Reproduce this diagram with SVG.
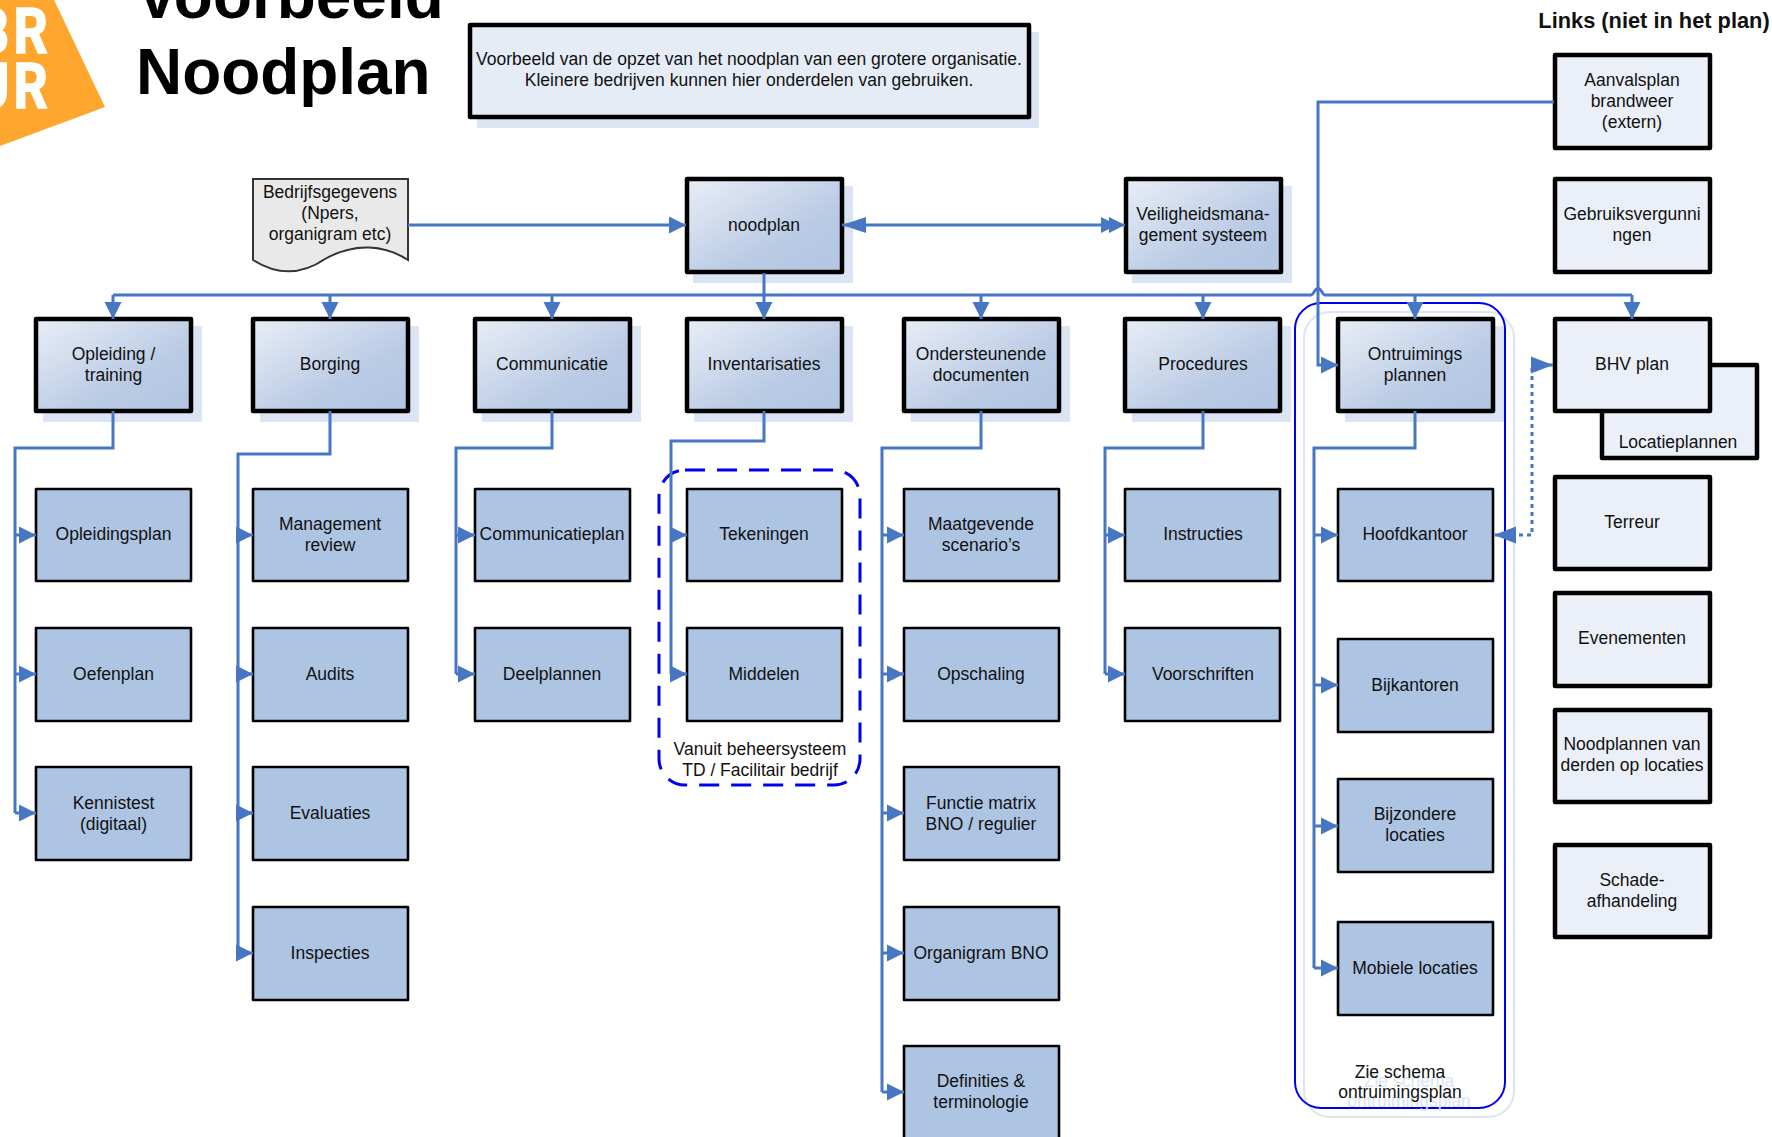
<svg xmlns="http://www.w3.org/2000/svg" width="1772" height="1137" viewBox="0 0 1772 1137">
<style>
text{font-family:"Liberation Sans",Arial,sans-serif;font-size:17.5px;fill:#111;text-anchor:middle}
.sh{fill:#dbe4f3;stroke:#dbe4f3;stroke-width:2}
.top{fill:url(#g);stroke:#000;stroke-width:4.5;stroke-linejoin:round}
.ch{fill:#aec4e3;stroke:#000;stroke-width:2.6;stroke-linejoin:round}
.lt{fill:#ebf0f8;stroke:#000;stroke-width:4.5;stroke-linejoin:round}
.c{fill:none;stroke:#4777c3;stroke-width:3}
.a{marker-end:url(#m)}
.b{marker-end:url(#mb)}
.title{font-size:63.9px;font-weight:bold;text-anchor:start;fill:#000}
.logo{font-family:Roboto,"Liberation Sans",sans-serif;font-size:63px;font-weight:bold;fill:#fff;stroke:#fff;stroke-width:1.6;text-anchor:end;letter-spacing:5px}
.ghost{fill:#dbe4f3}
</style>
<defs>
<linearGradient id="g" x1="0" y1="0" x2="1" y2="1"><stop offset="0" stop-color="#e9eef7"/><stop offset=".65" stop-color="#b9cae4"/><stop offset="1" stop-color="#b2c6e2"/></linearGradient>
<marker id="m" markerUnits="userSpaceOnUse" markerWidth="18" markerHeight="18" refX="17" refY="9" orient="auto"><path d="M0 0.5L17 9L0 17.5Z" fill="#4777c3"/></marker>
<marker id="mb" markerUnits="userSpaceOnUse" markerWidth="23" markerHeight="19" refX="22" refY="9" orient="auto-start-reverse"><path d="M0 0.5L22 9L0 17.5Z" fill="#4777c3"/></marker>
<marker id="md" markerUnits="userSpaceOnUse" markerWidth="25" markerHeight="17" refX="24" refY="8.5" orient="auto"><path d="M0 0.5L16 8.5L0 16.5ZM8 0.5L24 8.5L8 16.5Z" fill="#4777c3"/></marker>
<marker id="ms" markerUnits="userSpaceOnUse" markerWidth="25" markerHeight="17" refX="24" refY="8.5" orient="auto-start-reverse"><path d="M0 0.5L24 8.5L0 16.5Z" fill="#4777c3"/></marker>
</defs>
<rect width="1772" height="1137" fill="#fff"/>

<g id="logo"><path d="M0 0H54L105 107L0 146Z" fill="#fea62d"/><text class="logo" transform="translate(52 53) scale(.85 1)" x="0" y="0">BR</text><text class="logo" transform="translate(52 108) scale(.85 1)" x="0" y="0">UR</text></g>
<g id="title"><text class="title" x="136" y="18">Voorbeeld</text><text class="title" x="136" y="94">Noodplan</text></g>
<g id="links-title"><text x="1654" y="28" style="font-weight:bold;font-size:21.8px">Links (niet in het plan)</text></g>
<g id="info"><rect class="sh" x="478" y="33" width="560" height="94"/><rect class="lt" x="470" y="25" width="559" height="92" style="fill:#e6ecf6"/><text x="749" y="65">Voorbeeld van de opzet van het noodplan van een grotere organisatie.</text><text x="749" y="86">Kleinere bedrijven kunnen hier onderdelen van gebruiken.</text></g>

<g id="ontruiming-frame"><rect x="1304" y="312" width="210" height="805" rx="26" fill="#fff" stroke="#dbe4f3" stroke-width="2"/><rect x="1295" y="303" width="210" height="805" rx="26" fill="none" stroke="#0000f0" stroke-width="2"/><text class="ghost" x="1409" y="1087">Zie schema</text><text class="ghost" x="1409" y="1107">ontruimingsplan</text><text x="1400" y="1078">Zie schema</text><text x="1400" y="1098">ontruimingsplan</text></g>

<g id="bedrijfsgegevens"><path d="M253 179H408V260C385 245 355 242 325 259C300 276 275 274 253 260Z" fill="#e9e9e9" stroke="#333" stroke-width="2"/><text x="330" y="198">Bedrijfsgegevens</text><text x="330" y="219">(Npers,</text><text x="330" y="240">organigram etc)</text></g>
<g id="noodplan"><rect class="sh" x="694" y="187" width="158" height="95"/><rect class="top" x="687" y="179" width="155" height="93"/><text x="764" y="231">noodplan</text></g>
<g id="veiligheid"><rect class="sh" x="1133" y="187" width="158" height="95"/><rect class="top" x="1126" y="179" width="155" height="93"/><text x="1203" y="220">Veiligheidsmana-</text><text x="1203" y="241">gement systeem</text></g>

<g id="aanvalsplan"><rect class="lt" x="1555" y="55" width="155" height="93"/><text x="1632" y="86">Aanvalsplan</text><text x="1632" y="107">brandweer</text><text x="1632" y="128">(extern)</text></g>
<g id="gebruik"><rect class="lt" x="1555" y="179" width="155" height="93"/><text x="1632" y="220">Gebruiksvergunni</text><text x="1632" y="241">ngen</text></g>
<g id="locatieplannen"><rect class="lt" x="1602" y="365" width="155" height="93"/><text x="1678" y="448">Locatieplannen</text></g>
<g id="bhv"><rect class="lt" x="1555" y="319" width="155" height="92"/><text x="1632" y="370">BHV plan</text></g>
<g id="terreur"><rect class="lt" x="1555" y="477" width="155" height="92"/><text x="1632" y="528">Terreur</text></g>
<g id="evenementen"><rect class="lt" x="1555" y="593" width="155" height="93"/><text x="1632" y="644">Evenementen</text></g>
<g id="noodplannen-derden"><rect class="lt" x="1555" y="710" width="155" height="92"/><text x="1632" y="750">Noodplannen van</text><text x="1632" y="771">derden op locaties</text></g>
<g id="schade"><rect class="lt" x="1555" y="845" width="155" height="92"/><text x="1632" y="886">Schade-</text><text x="1632" y="907">afhandeling</text></g>

<g id="opleiding"><rect class="sh" x="44" y="327" width="157" height="94"/><rect class="top" x="36" y="319" width="155" height="92"/><text x="113.5" y="360">Opleiding /</text><text x="113.5" y="381">training</text></g>
<g id="borging"><rect class="sh" x="261" y="327" width="157" height="94"/><rect class="top" x="253" y="319" width="155" height="92"/><text x="330" y="370">Borging</text></g>
<g id="communicatie"><rect class="sh" x="483" y="327" width="157" height="94"/><rect class="top" x="475" y="319" width="155" height="92"/><text x="552" y="370">Communicatie</text></g>
<g id="inventarisaties"><rect class="sh" x="695" y="327" width="157" height="94"/><rect class="top" x="687" y="319" width="155" height="92"/><text x="764" y="370">Inventarisaties</text></g>
<g id="ondersteunende"><rect class="sh" x="912" y="327" width="157" height="94"/><rect class="top" x="904" y="319" width="155" height="92"/><text x="981" y="360">Ondersteunende</text><text x="981" y="381">documenten</text></g>
<g id="procedures"><rect class="sh" x="1133" y="327" width="157" height="94"/><rect class="top" x="1125" y="319" width="155" height="92"/><text x="1203" y="370">Procedures</text></g>
<g id="ontruimings"><rect class="sh" x="1346" y="327" width="157" height="94"/><rect class="top" x="1338" y="319" width="155" height="92"/><text x="1415" y="360">Ontruimings</text><text x="1415" y="381">plannen</text></g>

<g id="opleidingsplan"><rect class="ch" x="36" y="489" width="155" height="92"/><text x="113.5" y="540">Opleidingsplan</text></g>
<g id="oefenplan"><rect class="ch" x="36" y="628" width="155" height="93"/><text x="113.5" y="680">Oefenplan</text></g>
<g id="kennistest"><rect class="ch" x="36" y="767" width="155" height="93"/><text x="113.5" y="809">Kennistest</text><text x="113.5" y="830">(digitaal)</text></g>
<g id="management"><rect class="ch" x="253" y="489" width="155" height="92"/><text x="330" y="530">Management</text><text x="330" y="551">review</text></g>
<g id="audits"><rect class="ch" x="253" y="628" width="155" height="93"/><text x="330" y="680">Audits</text></g>
<g id="evaluaties"><rect class="ch" x="253" y="767" width="155" height="93"/><text x="330" y="819">Evaluaties</text></g>
<g id="inspecties"><rect class="ch" x="253" y="907" width="155" height="93"/><text x="330" y="959">Inspecties</text></g>
<g id="communicatieplan"><rect class="ch" x="475" y="489" width="155" height="92"/><text x="552" y="540">Communicatieplan</text></g>
<g id="deelplannen"><rect class="ch" x="475" y="628" width="155" height="93"/><text x="552" y="680">Deelplannen</text></g>
<g id="tekeningen"><rect class="ch" x="687" y="489" width="155" height="92"/><text x="764" y="540">Tekeningen</text></g>
<g id="middelen"><rect class="ch" x="687" y="628" width="155" height="93"/><text x="764" y="680">Middelen</text></g>
<g id="maatgevende"><rect class="ch" x="904" y="489" width="155" height="92"/><text x="981" y="530">Maatgevende</text><text x="981" y="551">scenario’s</text></g>
<g id="opschaling"><rect class="ch" x="904" y="628" width="155" height="93"/><text x="981" y="680">Opschaling</text></g>
<g id="functie"><rect class="ch" x="904" y="767" width="155" height="93"/><text x="981" y="809">Functie matrix</text><text x="981" y="830">BNO / regulier</text></g>
<g id="organigram"><rect class="ch" x="904" y="907" width="155" height="93"/><text x="981" y="959">Organigram BNO</text></g>
<g id="definities"><rect class="ch" x="904" y="1046" width="155" height="95"/><text x="981" y="1087">Definities &amp;</text><text x="981" y="1108">terminologie</text></g>
<g id="instructies"><rect class="ch" x="1125" y="489" width="155" height="92"/><text x="1203" y="540">Instructies</text></g>
<g id="voorschriften"><rect class="ch" x="1125" y="628" width="155" height="93"/><text x="1203" y="680">Voorschriften</text></g>
<g id="hoofdkantoor"><rect class="ch" x="1338" y="489" width="155" height="92"/><text x="1415" y="540">Hoofdkantoor</text></g>
<g id="bijkantoren"><rect class="ch" x="1338" y="639" width="155" height="93"/><text x="1415" y="691">Bijkantoren</text></g>
<g id="bijzondere"><rect class="ch" x="1338" y="779" width="155" height="93"/><text x="1415" y="820">Bijzondere</text><text x="1415" y="841">locaties</text></g>
<g id="mobiele"><rect class="ch" x="1338" y="922" width="155" height="93"/><text x="1415" y="974">Mobiele locaties</text></g>

<g id="beheersysteem"><rect x="659" y="470" width="201" height="315" rx="26" fill="none" stroke="#0000f0" stroke-width="3" stroke-dasharray="20 12"/><text x="760" y="755">Vanuit beheersysteem</text><text x="760" y="776">TD / Facilitair bedrijf</text></g>

<g id="connectors">
<path class="c a" d="M408 225H686"/>
<path class="c" style="marker-start:url(#ms);marker-end:url(#md)" d="M842 225H1125"/>
<path class="c" d="M113 295H1311Q1313 294.500 1314 292Q1318 285 1322 292Q1323 294.500 1325 295H1632"/>
<path class="c a" d="M764 273V319"/>
<path class="c a" d="M113 295V319"/>
<path class="c a" d="M330 295V319"/>
<path class="c a" d="M552 295V319"/>
<path class="c a" d="M981 295V319"/>
<path class="c a" d="M1203 295V319"/>
<path class="c a" d="M1415 295V319"/>
<path class="c a" d="M1632 295V319"/>
<path class="c a" d="M1554 102H1318V365H1338"/>
<path class="c" d="M113 411V448H15V813"/><path class="c a" d="M15 535H36"/><path class="c a" d="M15 674H36"/><path class="c a" d="M15 813H36"/>
<path class="c" d="M330 411V454H238V953"/><path class="c a" d="M238 535H253"/><path class="c a" d="M238 674H253"/><path class="c a" d="M238 813H253"/><path class="c a" d="M238 953H253"/>
<path class="c" d="M552 411V448H456V674"/><path class="c a" d="M456 535H475"/><path class="c a" d="M456 674H475"/>
<path class="c" d="M764 411V441H671V674"/><path class="c a" d="M671 535H687"/><path class="c a" d="M671 674H687"/>
<path class="c" d="M981 411V448H882V1092"/><path class="c a" d="M882 535H904"/><path class="c a" d="M882 674H904"/><path class="c a" d="M882 813H904"/><path class="c a" d="M882 953H904"/><path class="c a" d="M882 1092H904"/>
<path class="c" d="M1203 411V448H1105V674"/><path class="c a" d="M1105 535H1125"/><path class="c a" d="M1105 674H1125"/>
<path class="c" d="M1415 411V448H1314V968"/><path class="c a" d="M1314 535H1338"/><path class="c a" d="M1314 685H1338"/><path class="c a" d="M1314 826H1338"/><path class="c a" d="M1314 968H1338"/>
<path class="c b" style="marker-start:url(#mb);stroke-dasharray:4 4" d="M1553 365H1532V535H1494"/>
</g>
</svg>
